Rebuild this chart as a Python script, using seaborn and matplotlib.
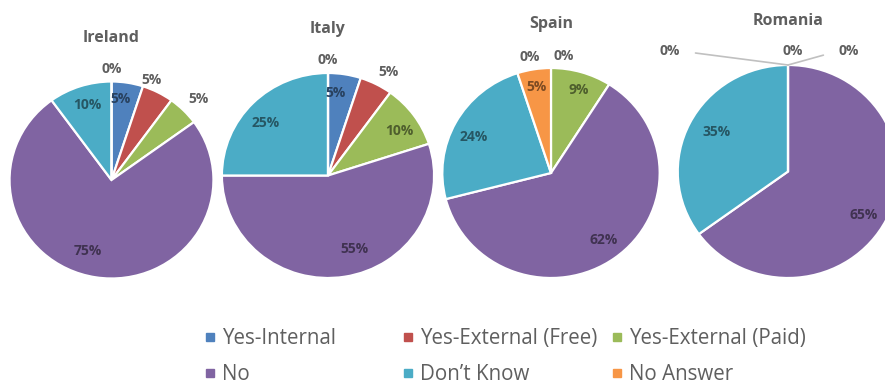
import matplotlib
matplotlib.use("Agg")
import matplotlib.pyplot as plt
import numpy as np
import seaborn as sns
from matplotlib.lines import Line2D

# ---- data -------------------------------------------------------------
categories = ["Yes-Internal", "Yes-External (Free)", "Yes-External (Paid)",
              "No", "Don\u2019t Know", "No Answer"]
countries = ["Ireland", "Italy", "Spain", "Romania"]
ireland = [5, 5, 5, 75, 10, 0]
italy = [5, 5, 10, 55, 25, 0]
spain = [0, 0, 9, 62, 24, 5]
romania = [0, 0, 0, 65, 35, 0]
shares = {"Ireland": ireland, "Italy": italy, "Spain": spain, "Romania": romania}

# ---- style ------------------------------------------------------------
sns.set_theme(style="white")
plt.rcParams["font.family"] = ["Open Sans", "DejaVu Sans"]
palette = sns.color_palette(["#4F81BD", "#C0504D", "#9BBB59",
                             "#8064A2", "#4BACC6", "#F79646"])
GREY = "#5f5f5f"

W, H = 885, 388
SX = 1.035  # slight horizontal stretch of the pies

# pie layout in pixels: centre x, centre y (from top), radius
layout = {
    "Ireland": (111.5, 180.0, 98.5),
    "Italy": (328.0, 175.5, 102.5),
    "Spain": (551.0, 173.0, 105.0),
    "Romania": (788.0, 171.5, 106.5),
}

# label placement overrides: (radius fraction, angle clockwise from top)
# None hides the label (it sits under a neighbour)
label_pos = {
    ("Ireland", 0): (0.83, 6), ("Ireland", 1): (1.09, 21),
    ("Ireland", 2): (1.18, 46), ("Ireland", 3): (0.76, 198),
    ("Ireland", 4): (0.80, 343), ("Ireland", 5): (1.13, 0),
    ("Italy", 0): (0.81, 5), ("Italy", 1): (1.16, 29.5),
    ("Italy", 2): (0.80, 57), ("Italy", 3): (0.76, 161),
    ("Italy", 4): (0.78, 311), ("Italy", 5): (1.13, 0),
    ("Spain", 0): (1.12, -10), ("Spain", 1): (1.12, 6),
    ("Spain", 2): (0.83, 18), ("Spain", 3): (0.80, 143),
    ("Spain", 4): (0.79, 296), ("Spain", 5): (0.83, 351),
    ("Romania", 0): (1.13, 2), ("Romania", 1): (1.26, 26),
    ("Romania", 2): None, ("Romania", 3): (0.80, 121),
    ("Romania", 4): (0.75, 300), ("Romania", 5): (1.56, -43.5),
}
leader = {("Romania", 1), ("Romania", 5)}

fig = plt.figure(figsize=(W / 100, H / 100), dpi=100)
ax = fig.add_axes([0, 0, 1, 1])


def darker(c, f=0.5):
    return tuple(v * f for v in c)


for country in countries:
    vals = shares[country]
    px, py, r = layout[country]
    cx, cy = px / SX, H - py
    wedges, _ = ax.pie(vals, colors=palette, startangle=90, counterclock=False,
                       center=(cx, cy), radius=r, frame=False,
                       wedgeprops=dict(edgecolor="white", linewidth=1.6))
    ax.text(cx, cy + r + 44, country, ha="center", va="center",
            fontsize=11.5, fontweight="bold", color=GREY)
    for i, (w, v) in enumerate(zip(wedges, vals)):
        spot = label_pos.get((country, i), "auto")
        if spot is None:
            continue
        if spot == "auto":
            mid = 90 - (w.theta1 + w.theta2) / 2
            spot = (0.8, mid)
        frac, ang = spot
        a = np.deg2rad(ang)
        tx = cx + frac * r * np.sin(a)
        ty = cy + frac * r * np.cos(a)
        inside = frac < 1
        col = darker(palette[i]) if inside else GREY
        txt = f"{v}%"
        if (country, i) in leader:
            edge_ang = np.deg2rad(90 - w.theta1)
            ex = cx + r * np.sin(edge_ang)
            ey = cy + r * np.cos(edge_ang)
            side = 1 if ang > 0 else -1
            ax.annotate(txt, xy=(ex, ey), xytext=(tx, ty),
                        ha="center", va="center", fontsize=10,
                        fontweight="bold", color=col,
                        arrowprops=dict(arrowstyle="-", color="#c0c0c0",
                                        lw=1.2, shrinkA=9, shrinkB=0,
                                        relpos=(0.5 - 0.5 * side, 0.5)))
        else:
            ax.text(tx, ty, txt, ha="center", va="center", fontsize=10,
                    fontweight="bold", color=col)

ax.set_aspect("auto")
ax.set_xlim(0, W / SX)
ax.set_ylim(0, H)
ax.axis("off")

# ---- legend: three columns of two entries -----------------------------
handles = [Line2D([], [], marker="s", linestyle="", markersize=6,
                  color=palette[i], label=categories[i]) for i in range(6)]
columns = [(0, 3), (1, 4), (2, 5)]
col_x = [205, 403, 612]
for (a, b), x0 in zip(columns, col_x):
    fig.legend(handles=[handles[a], handles[b]], loc="upper left",
               bbox_to_anchor=(x0 / W, 1 - 328 / H), frameon=False,
               fontsize=14.8, labelcolor=GREY, handlelength=0.5,
               handletextpad=0.35, borderpad=0, borderaxespad=0,
               labelspacing=0.75)

fig.savefig("out.png", dpi=100)
